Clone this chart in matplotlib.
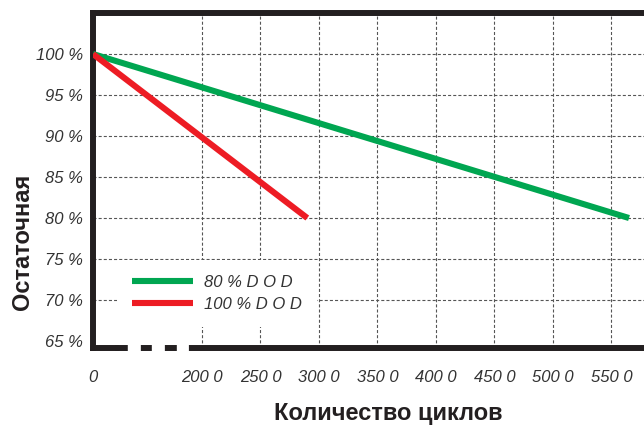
import numpy as np
import matplotlib
matplotlib.use('Agg')
import matplotlib.pyplot as plt

plt.rcParams['font.family'] = ['Liberation Sans', 'DejaVu Sans']
plt.rcParams['lines.scale_dashes'] = False

# data
cycles_80 = [0, 5650]
capacity_80 = [100, 80]
cycles_100 = [0, 2900]
capacity_100 = [100, 80]

x_ticks = [0, 2000, 2500, 3000, 3500, 4000, 4500, 5000, 5500]
x_tick_labels = ['0', '200 0', '250 0', '300 0', '350 0', '400 0', '450 0', '500 0', '550 0']
y_ticks = [65, 70, 75, 80, 85, 90, 95, 100]
y_tick_labels = ['65 %', '70 %', '75 %', '80 %', '85 %', '90 %', '95 %', '100 %']

# broken x axis: 0..2000 is squeezed
k = 0.4658
def fwd(x):
    x = np.asarray(x, dtype=float)
    return np.where(x < 2000, x * k, 2000 * k + x - 2000)

def inv(y):
    y = np.asarray(y, dtype=float)
    return np.where(y < 2000 * k, y / k, y - 2000 * k + 2000)

fig = plt.figure(figsize=(6.44, 4.30), dpi=100)
ax = fig.add_axes([93 / 644, 82 / 430, 551 / 644, 335 / 430])
ax.set_xscale('function', functions=(fwd, inv))

ax.plot(cycles_80, capacity_80, color='#00A651', lw=4.4, solid_capstyle='butt',
        label='80 % D O D', zorder=3)
ax.plot(cycles_100, capacity_100, color='#ED1C24', lw=4.4, solid_capstyle='butt',
        label='100 % D O D', zorder=4)

ax.set_xlim(0, 5778)
ax.set_ylim(64.15, 105)
ax.set_xticks(x_ticks)
ax.set_xticklabels(x_tick_labels)
ax.set_yticks(y_ticks)
ax.set_yticklabels(y_tick_labels)

ax.grid(True, color='#555555', lw=0.8, linestyle=(0, (2.2, 1.5)))
ax.get_ygridlines()[0].set_visible(False)
ax.get_xgridlines()[0].set_visible(False)
ax.set_axisbelow(True)

ax.tick_params(length=0, labelsize=12, labelcolor='#333333')
ax.tick_params(axis='y', pad=7)
ax.tick_params(axis='x', pad=15.5)
for t in ax.get_xticklabels() + ax.get_yticklabels():
    t.set_fontstyle('italic')

spine_color = '#231F20'
ax.spines['right'].set_visible(False)
for s in ['left', 'top']:
    ax.spines[s].set_linewidth(4.3)
    ax.spines[s].set_color(spine_color)
ax.spines['bottom'].set_linewidth(4.3)
ax.spines['bottom'].set_color(spine_color)
ax.spines['bottom'].set_linestyle((0, (16, 2.6, 4.3, 13.7, 3.6, 13.7, 4.3, 13, 600, 1)))

leg = ax.legend(loc='upper left', bbox_to_anchor=(0.0436, 0.262), borderaxespad=0,
                frameon=True, facecolor='white', edgecolor='none', framealpha=1,
                fancybox=False, fontsize=12, handlelength=3.65, handletextpad=0.65,
                labelspacing=0.4, borderpad=0.9)
for t in leg.get_texts():
    t.set_fontstyle('italic')
    t.set_color('#333333')

ax.set_xlabel('Количество циклов', fontsize=17, fontweight='bold', color=spine_color,
              va='center')
ax.xaxis.set_label_coords(0.535, -0.196)
ax.set_ylabel('Остаточная', fontsize=17, fontweight='bold', color=spine_color,
              va='center')
ax.yaxis.set_label_coords(-0.128, 0.316)

fig.savefig('out.png', dpi=100)
